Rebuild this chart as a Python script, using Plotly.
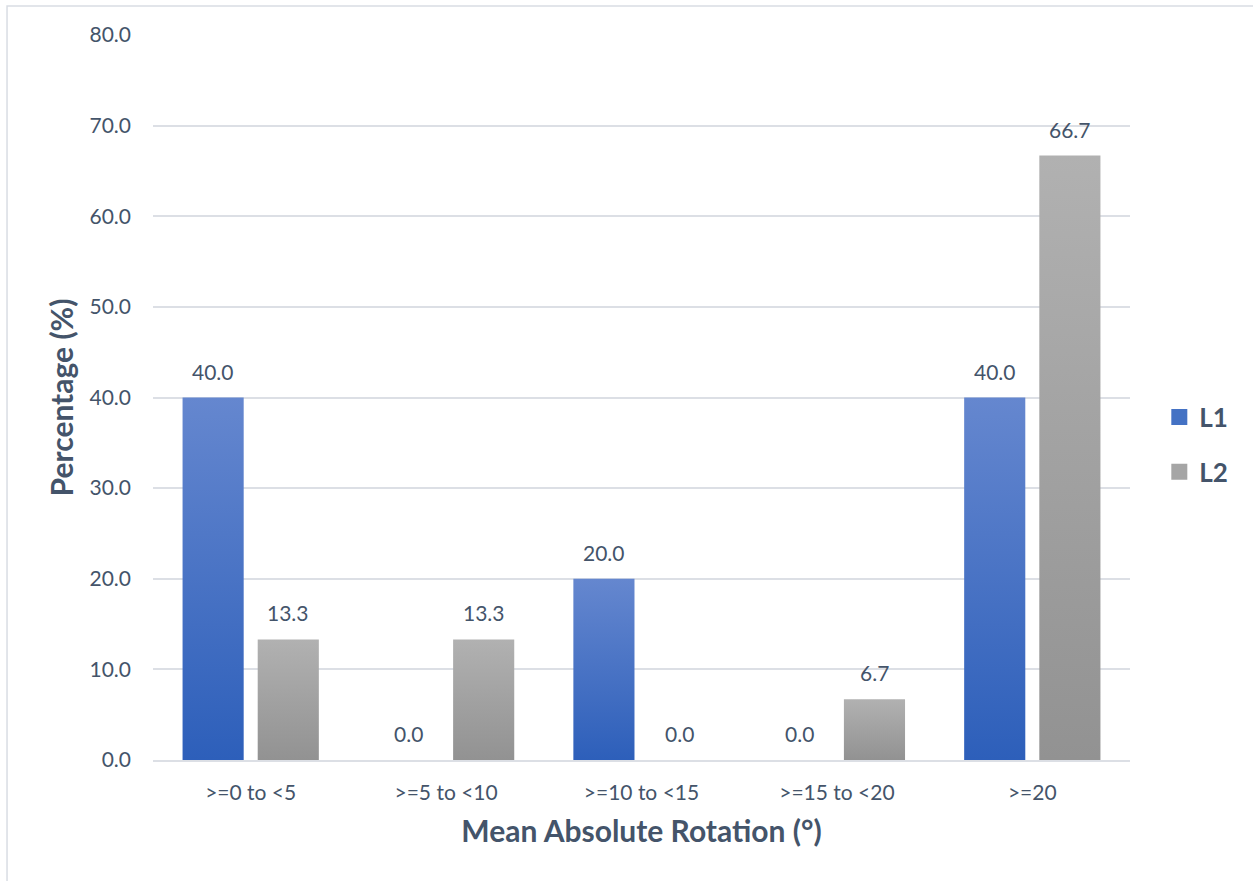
import plotly.graph_objects as go

# Rotation bins and percentages per level
categories = [">=0 to <5", ">=5 to <10", ">=10 to <15", ">=15 to <20", ">=20"]
l1_values = [40.0, 0.0, 20.0, 0.0, 40.0]
l2_values = [13.3, 13.3, 0.0, 6.7, 66.7]
y_ticks = [0, 10, 20, 30, 40, 50, 60, 70, 80]

series = [
    ("L1", l1_values, "#2d5fba", "#6587cf", "#4472c4"),
    ("L2", l2_values, "#929292", "#b1b1b1", "#a5a5a5"),
]

FONT = "Lato"
TEXT = "#44546a"
GRID = "#dcdfe5"

slot = 75 / 195          # width of one series slot in category units
bar_w = 61 / 195         # drawn bar width in category units

fig = go.Figure()
labels = []

for i, (name, vals, c_bot, c_top, c_mid) in enumerate(series):
    off = (i - 0.5) * slot
    for j, v in enumerate(vals):
        xc = j + off
        if v > 0:
            x0, x1 = xc - bar_w / 2, xc + bar_w / 2
            fig.add_trace(go.Scatter(
                x=[x0, x1, x1, x0, x0], y=[0, 0, v, v, 0],
                mode="lines", fill="toself", line=dict(width=0),
                fillcolor=c_mid,
                fillgradient=dict(type="vertical",
                                  colorscale=[[0, c_bot], [1, c_top]]),
                showlegend=False, hoverinfo="skip",
            ))
        # value label above each bar
        labels.append(dict(
            x=xc, y=v, xref="x", yref="y", text=f"{v:.1f}",
            showarrow=False, yanchor="bottom", yshift=12,
            font=dict(family=FONT, size=21, color=TEXT),
        ))
    # legend entry
    fig.add_trace(go.Scatter(
        x=[None], y=[None], mode="markers", name=name,
        marker=dict(symbol="square", size=18, color=c_mid),
        legendgroup=name,
    ))

fig.update_layout(
    width=1253, height=881,
    margin=dict(l=153, r=123, t=35, b=121),
    paper_bgcolor="white", plot_bgcolor="white",
    font=dict(family=FONT, color=TEXT),
    legend=dict(
        x=1.03, y=0.435, xanchor="left", yanchor="middle",
        font=dict(family=FONT, size=26, color=TEXT, weight="bold"),
        tracegroupgap=18, itemwidth=30,
    ),
    annotations=labels,
    shapes=[dict(
        type="rect", xref="paper", yref="paper",
        x0=-0.1494, x1=1.3, y0=-0.3, y1=1.04,
        line=dict(color="#d9dde3", width=1.5), fillcolor="rgba(0,0,0,0)",
        layer="below",
    )],
)

fig.update_xaxes(
    range=[-0.5, len(categories) - 0.5],
    tickvals=list(range(len(categories))), ticktext=categories,
    tickfont=dict(family=FONT, size=21, color=TEXT),
    showgrid=False, zeroline=False, showline=True, linecolor=GRID, linewidth=2,
    ticks="", ticklabelstandoff=13,
    title=dict(text="Mean Absolute Rotation (°)",
               font=dict(family=FONT, size=30, color=TEXT, weight="bold"),
               standoff=18),
)
fig.update_yaxes(
    range=[0, 80], tickvals=y_ticks, tickformat=".1f",
    tickfont=dict(family=FONT, size=21, color=TEXT),
    showgrid=True, gridcolor=GRID, gridwidth=1.5, zeroline=False,
    showline=False, ticks="", ticklabelstandoff=21,
    title=dict(text="Percentage (%)",
               font=dict(family=FONT, size=30, color=TEXT, weight="bold"),
               standoff=7),
)

fig.write_html("out.html")
